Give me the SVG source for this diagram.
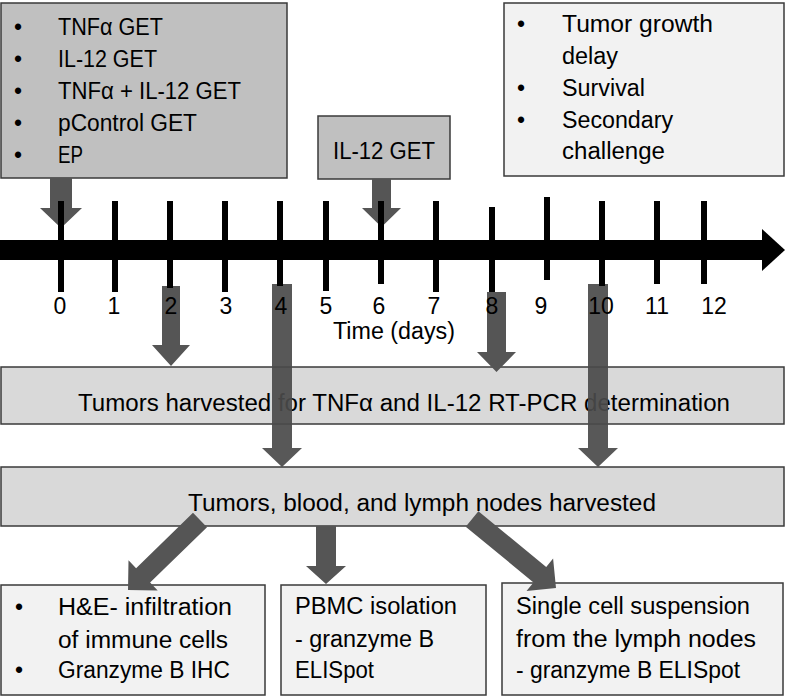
<svg xmlns="http://www.w3.org/2000/svg" width="786" height="696" viewBox="0 0 786 696">
<style>
.t{font-family:"Liberation Sans",Arial,sans-serif;font-size:23px;fill:#000}
.m{text-anchor:middle}
.dark{fill:#c0c0c0;stroke:#3a3a3a;stroke-width:1.5}
.mid{fill:#d9d9d9;stroke:#3a3a3a;stroke-width:1.5}
.light{fill:#f2f2f2;stroke:#3a3a3a;stroke-width:1.5}
.arr{fill:#555555}
.arro{fill:#4a4a4a;fill-opacity:0.92}
.tick{stroke:#000;stroke-width:6}
</style>
<rect width="786" height="696" fill="#fff"/>

<g id="treatments">
<rect class="dark" x="1" y="3" width="286" height="175"/>
<text class="t" x="14" y="35">•</text><text class="t" x="58" y="35" textLength="105" lengthAdjust="spacingAndGlyphs">TNFα GET</text>
<text class="t" x="14" y="67">•</text><text class="t" x="58" y="67" textLength="99" lengthAdjust="spacingAndGlyphs">IL-12 GET</text>
<text class="t" x="14" y="99">•</text><text class="t" x="58" y="99" textLength="183" lengthAdjust="spacingAndGlyphs">TNFα + IL-12 GET</text>
<text class="t" x="14" y="131">•</text><text class="t" x="58" y="131" textLength="139" lengthAdjust="spacingAndGlyphs">pControl GET</text>
<text class="t" x="14" y="163">•</text><text class="t" x="58" y="163" textLength="25" lengthAdjust="spacingAndGlyphs">EP</text>
</g>

<g id="il12-boost">
<rect class="dark" x="318" y="116" width="132" height="63"/>
<text class="t" x="333" y="159" textLength="102" lengthAdjust="spacingAndGlyphs">IL-12 GET</text>
</g>

<g id="endpoints">
<rect class="light" x="504" y="3" width="280" height="173"/>
<text class="t" x="517" y="32">•</text><text class="t" x="562" y="32" textLength="151" lengthAdjust="spacingAndGlyphs">Tumor growth</text>
<text class="t" x="562" y="64" textLength="56" lengthAdjust="spacingAndGlyphs">delay</text>
<text class="t" x="517" y="96">•</text><text class="t" x="562" y="96" textLength="83" lengthAdjust="spacingAndGlyphs">Survival</text>
<text class="t" x="517" y="128">•</text><text class="t" x="562" y="128" textLength="111" lengthAdjust="spacingAndGlyphs">Secondary</text>
<text class="t" x="562" y="159" textLength="103" lengthAdjust="spacingAndGlyphs">challenge</text>
</g>

<g id="rtpcr">
<rect class="mid" x="1" y="367" width="783" height="57"/>
<text class="t" x="78" y="411" textLength="652" lengthAdjust="spacingAndGlyphs">Tumors harvested  for TNFα and IL-12 RT-PCR determination</text>
</g>

<g id="harvest">
<rect class="mid" x="1" y="467" width="783" height="59"/>
<text class="t" x="188" y="511" textLength="468" lengthAdjust="spacingAndGlyphs">Tumors, blood, and lymph nodes harvested</text>
</g>

<g id="histology">
<rect class="light" x="1" y="585" width="264" height="110"/>
<text class="t" x="15" y="615">•</text><text class="t" x="58" y="615" textLength="174" lengthAdjust="spacingAndGlyphs">H&amp;E- infiltration</text>
<text class="t" x="58" y="648" textLength="170" lengthAdjust="spacingAndGlyphs">of immune cells</text>
<text class="t" x="15" y="678">•</text><text class="t" x="58" y="678" textLength="172" lengthAdjust="spacingAndGlyphs">Granzyme B IHC</text>
</g>

<g id="pbmc">
<rect class="light" x="281" y="585" width="205" height="110"/>
<text class="t" x="295" y="614" textLength="162" lengthAdjust="spacingAndGlyphs">PBMC isolation</text>
<text class="t" x="295" y="647" textLength="139" lengthAdjust="spacingAndGlyphs">- granzyme B</text>
<text class="t" x="295" y="678" textLength="79" lengthAdjust="spacingAndGlyphs">ELISpot</text>
</g>

<g id="lymph">
<rect class="light" x="502" y="583" width="281" height="112"/>
<text class="t" x="516" y="614" textLength="234" lengthAdjust="spacingAndGlyphs">Single cell suspension</text>
<text class="t" x="516" y="647" textLength="240" lengthAdjust="spacingAndGlyphs">from the lymph nodes</text>
<text class="t" x="516" y="678" textLength="224" lengthAdjust="spacingAndGlyphs">- granzyme B ELISpot</text>
</g>

<g id="connectors">
<polygon class="arr" points="50,178 72,178 72,208 82,208 61,228 40,208 50,208"/>
<polygon class="arr" points="372,179 391,179 391,208 401,208 381.5,227 362,208 372,208"/>
<polygon class="arr" points="162,286 180,286 180,345 190,345 171,366 152,345 162,345"/>
<polygon class="arr" points="487,292 506,292 506,352 516,352 496.5,372 477,352 487,352"/>
<polygon class="arro" points="272,284 292,284 292,448 302,448 282,467 262,448 272,448"/>
<polygon class="arro" points="588,284 608,284 608,448 618,448 598,467 578,448 588,448"/>
<polygon class="arr" points="193,512.8 207,527.2 150.1,582.5 157.7,590.5 128,590 128.5,560.3 136.1,568.2"/>
<polygon class="arr" points="316,526 336,526 336,566 346,566 326,584 306,566 316,566"/>
<polygon class="arr" points="478.4,511.3 546.2,567 553.1,558.5 556,588 526.5,590.9 533.5,582.4 465.7,526.7"/>
</g>

<g id="timeline">
<rect x="0" y="240" width="763" height="20" fill="#000"/>
<polygon points="762,229 785,250 762,271" fill="#000"/>
<line class="tick" x1="61" y1="201" x2="61" y2="292"/>
<line class="tick" x1="115" y1="201" x2="115" y2="292"/>
<line class="tick" x1="170" y1="201" x2="170" y2="288"/>
<line class="tick" x1="225" y1="201" x2="225" y2="292"/>
<line class="tick" x1="280" y1="201" x2="280" y2="286"/>
<line class="tick" x1="326" y1="201" x2="326" y2="291"/>
<line class="tick" x1="381" y1="201" x2="381" y2="284"/>
<line class="tick" x1="436" y1="201" x2="436" y2="292"/>
<line class="tick" x1="492" y1="207" x2="492" y2="292"/>
<line class="tick" x1="547" y1="197" x2="547" y2="280"/>
<line class="tick" x1="602" y1="201" x2="602" y2="286"/>
<line class="tick" x1="657" y1="201" x2="657" y2="284"/>
<line class="tick" x1="704" y1="201" x2="704" y2="284"/>
<text class="t m" x="60" y="314">0</text>
<text class="t m" x="114" y="314">1</text>
<text class="t m" x="171" y="314">2</text>
<text class="t m" x="226" y="314">3</text>
<text class="t m" x="281" y="314">4</text>
<text class="t m" x="326" y="314">5</text>
<text class="t m" x="379" y="314">6</text>
<text class="t m" x="434" y="314">7</text>
<text class="t m" x="492" y="314">8</text>
<text class="t m" x="541" y="314">9</text>
<text class="t m" x="601" y="314">10</text>
<text class="t m" x="657" y="314">11</text>
<text class="t m" x="714" y="314">12</text>
<text class="t" x="333" y="339" textLength="122" lengthAdjust="spacingAndGlyphs">Time (days)</text>
</g>
</svg>
